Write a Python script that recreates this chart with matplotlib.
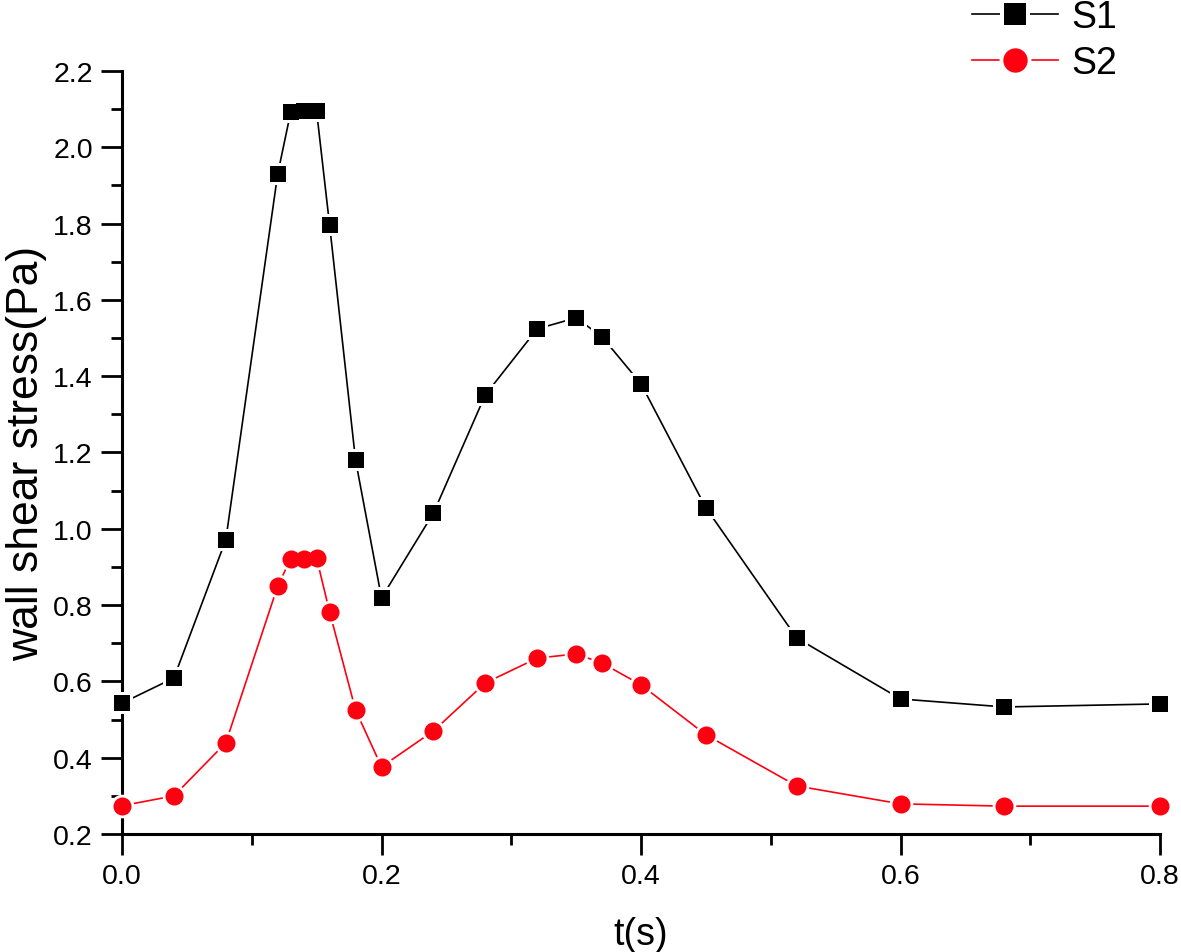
import matplotlib
matplotlib.use("Agg")
import matplotlib.pyplot as plt
from matplotlib.ticker import MultipleLocator
from matplotlib.legend_handler import HandlerTuple

plt.rcParams['font.family'] = ['Liberation Sans', 'DejaVu Sans']

t = [0.0, 0.04, 0.08, 0.12, 0.13, 0.14, 0.15, 0.16, 0.18, 0.20, 0.24, 0.28,
     0.32, 0.35, 0.37, 0.40, 0.45, 0.52, 0.60, 0.68, 0.80]
s1 = [0.543, 0.609, 0.971, 1.930, 2.092, 2.094, 2.094, 1.796, 1.180, 0.819, 1.041, 1.351,
      1.524, 1.553, 1.503, 1.380, 1.055, 0.714, 0.554, 0.533, 0.541]
s2 = [0.274, 0.300, 0.439, 0.850, 0.921, 0.921, 0.923, 0.782, 0.525, 0.376, 0.470, 0.596,
      0.661, 0.672, 0.648, 0.591, 0.460, 0.326, 0.279, 0.273, 0.273]

series = [
    ("S1", s1, "black", "s", 11.5),
    ("S2", s2, "#ff0010", "o", 13),
]

fig = plt.figure(figsize=(11.81, 9.53), dpi=100)
ax = fig.add_axes([122/1181, 118/953, 1038/1181, 763/953])

handles = []
for name, vals, col, mk, ms in series:
    ln, = ax.plot(t, vals, color=col, lw=1.2, zorder=2, clip_on=False)
    gap, = ax.plot(t, vals, linestyle='none', marker=mk, markersize=ms + 4,
                   color='white', markeredgewidth=0, zorder=3, clip_on=False)
    mark, = ax.plot(t, vals, linestyle='none', marker=mk, markersize=ms,
                    color=col, markeredgewidth=0, zorder=4, clip_on=False)
    handles.append((ln, gap, mark))

ax.set_xlim(0, 0.8)
ax.set_ylim(0.2, 2.2)
ax.xaxis.set_major_locator(MultipleLocator(0.2))
ax.xaxis.set_minor_locator(MultipleLocator(0.1))
ax.yaxis.set_major_locator(MultipleLocator(0.2))
ax.yaxis.set_minor_locator(MultipleLocator(0.1))
ax.xaxis.set_major_formatter(plt.FuncFormatter(lambda v, p: f"{v:.1f}"))
ax.yaxis.set_major_formatter(plt.FuncFormatter(lambda v, p: f"{v:.1f}"))

for side in ['top', 'right']:
    ax.spines[side].set_visible(False)
for side in ['left', 'bottom']:
    ax.spines[side].set_linewidth(2.2)

ax.tick_params(which='major', direction='out', length=15, width=2, labelsize=20.5, pad=6)
ax.tick_params(which='minor', direction='out', length=8, width=2)

ax.set_xlabel("t(s)", fontsize=27, labelpad=19)
ax.set_ylabel("wall shear stress(Pa)", fontsize=32, labelpad=4)

fig.legend(handles, ["S1", "S2"], handler_map={tuple: HandlerTuple(ndivide=1)},
           loc='upper left', bbox_to_anchor=(972/1181, 1.0), frameon=False,
           fontsize=27, handlelength=2.3, handletextpad=0.35, labelspacing=0.28,
           borderpad=0, borderaxespad=0, markerscale=1.35)

fig.savefig("out.png", dpi=100)
